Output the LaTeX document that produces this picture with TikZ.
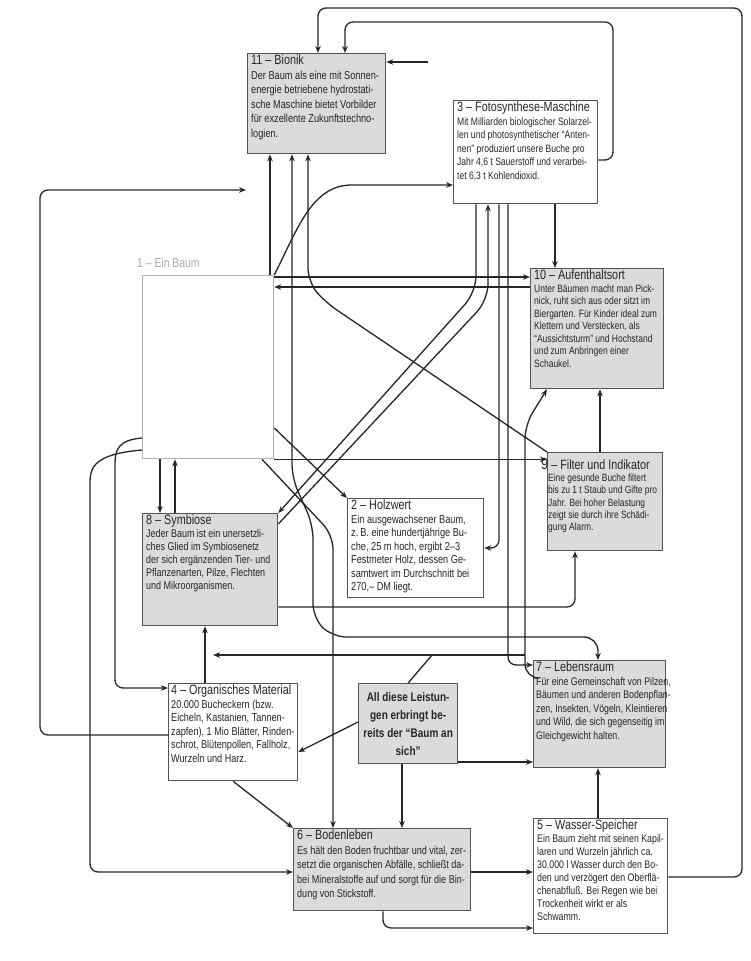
\documentclass[tikz,border=0pt]{standalone}
\usepackage{fontspec}
\setmainfont{Liberation Sans}
\newfontfamily\cond[FakeStretch=0.8]{Liberation Sans}
\usetikzlibrary{arrows.meta}
\definecolor{ink}{gray}{0.15}
\definecolor{speck}{gray}{0.86}
\definecolor{frame}{gray}{0.33}
\tikzset{
  box/.style={draw=frame, line width=1.3pt, anchor=north west, inner sep=0pt, fill=white},
  sbox/.style={box, fill=speck},
  txt/.style={anchor=north west, inner sep=0pt, align=left, text=ink},
  con/.style={draw=ink, line width=1.3pt, rounded corners=8pt},
  arr/.style={con, -{Stealth[length=7pt,width=5.5pt]}},
  darr/.style={con, {Stealth[length=7pt,width=5.5pt]}-{Stealth[length=7pt,width=5.5pt]}},
}
\newcommand{\ttl}[1]{{\fontsize{13.5}{15}\selectfont #1}}
\begin{document}
\begin{tikzpicture}[x=1pt,y=-1pt]
\useasboundingbox (0,0) rectangle (751,961);
\fill[white] (0,0) rectangle (751,961);

% boxes
\node[sbox, minimum width=138, minimum height=100] (bionik) at (247,53) {};
\node[box,  minimum width=144, minimum height=103] (foto) at (453,100) {};
\node[sbox, minimum width=133, minimum height=120] (aufent) at (530,268) {};
\node[box, draw=gray!60, minimum width=131, minimum height=183] (baum) at (142,275) {};
\node[anchor=west, inner sep=0pt, text=gray!65, font=\cond\fontsize{13}{14}\selectfont] (baumL) at (137,263) {1 – Ein Baum};
\node[sbox, minimum width=135, minimum height=112] (symb) at (142,513) {};
\node[box,  minimum width=136, minimum height=99] (holz) at (347,498) {};
\node[sbox, minimum width=115, minimum height=98] (filter) at (547,452) {};
\node[sbox, minimum width=132, minimum height=107] (leben) at (533,660) {};
\node[box,  minimum width=129, minimum height=97] (organ) at (168,683) {};
\node[sbox, minimum width=99, minimum height=80] (alle) at (358,683) {};
\node[sbox, minimum width=177, minimum height=82] (boden) at (293,828) {};
\node[box,  minimum width=134, minimum height=115] (wasser) at (533,818) {};

% texts
\node[txt, font=\cond\fontsize{11.5}{14.5}\selectfont] (bionikT) at (251,55) {\ttl{11 – Bionik}\\Der Baum als eine mit Sonnen-\\energie betriebene hydrostati-\\sche Maschine bietet Vorbilder\\für exzellente Zukunftstechno-\\logien.};
\node[txt, font=\cond\fontsize{10.7}{13.5}\selectfont] (fotoT) at (457,102) {\ttl{3 – Fotosynthese-Maschine}\\Mit Milliarden biologischer Solarzel-\\len und photosynthetischer “Anten-\\nen” produziert unsere Buche pro\\Jahr 4,6 t Sauerstoff und verarbei-\\tet 6,3 t Kohlendioxid.};
\node[txt, font=\cond\fontsize{10.6}{12.5}\selectfont] (aufentT) at (534,270) {\ttl{10 – Aufenthaltsort}\\Unter Bäumen macht man Pick-\\nick, ruht sich aus oder sitzt im\\Biergarten. Für Kinder ideal zum\\Klettern und Verstecken, als\\“Aussichtsturm” und Hochstand\\und zum Anbringen einer\\Schaukel.};
\node[txt, font=\cond\fontsize{11.2}{13}\selectfont] (symbT) at (146,515) {\ttl{8 – Symbiose}\\Jeder Baum ist ein unersetzli-\\ches Glied im Symbiosenetz\\der sich ergänzenden Tier- und\\Pflanzenarten, Pilze, Flechten\\und Mikroorganismen.};
\node[txt, font=\cond\fontsize{11.5}{13.5}\selectfont] (holzT) at (351,500) {\ttl{2 – Holzwert}\\Ein ausgewachsener Baum,\\z.\,B. eine hundertjährige Bu-\\che, 25 m hoch, ergibt 2–3\\Festmeter Holz, dessen Ge-\\samtwert im Durchschnitt bei\\270,– DM liegt.};
\node[txt, font=\cond\fontsize{10.5}{12.3}\selectfont] (filterT) at (541,458) {{\fontsize{16}{15}\selectfont 9}\ttl{ – Filter und Indikator}\\\hspace*{7pt}Eine gesunde Buche filtert\\\hspace*{7pt}bis zu 1 t Staub und Gifte pro\\\hspace*{7pt}Jahr. Bei hoher Belastung\\\hspace*{7pt}zeigt sie durch ihre Schädi-\\\hspace*{7pt}gung Alarm.};
\node[txt, font=\cond\fontsize{11}{13.5}\selectfont] (lebenT) at (536,662) {\ttl{7 – Lebensraum}\\Für eine Gemeinschaft von Pilzen,\\Bäumen und anderen Bodenpflan-\\zen, Insekten, Vögeln, Kleintieren\\und Wild, die sich gegenseitig im\\Gleichgewicht halten.};
\node[txt, font=\cond\fontsize{11.4}{13.5}\selectfont] (organT) at (171,685) {\ttl{4 – Organisches Material}\\20.000 Bucheckern (bzw.\\Eicheln, Kastanien, Tannen-\\zapfen), 1 Mio Blätter, Rinden-\\schrot, Blütenpollen, Fallholz,\\Wurzeln und Harz.};
\node[anchor=center, inner sep=0pt, align=center, text=ink, font=\cond\bfseries\fontsize{12.5}{18}\selectfont] (alleT) at (alle.center) {All diese Leistun-\\gen erbringt be-\\reits der “Baum an\\sich”};
\node[txt, font=\cond\fontsize{11.3}{14.5}\selectfont] (bodenT) at (297,830) {\ttl{6 – Bodenleben}\\Es hält den Boden fruchtbar und vital, zer-\\setzt die organischen Abfälle, schließt da-\\bei Mineralstoffe auf und sorgt für die Bin-\\dung von Stickstoff.};
\node[txt, font=\cond\fontsize{11}{13}\selectfont] (wasserT) at (537,820) {\ttl{5 – Wasser-Speicher}\\Ein Baum zieht mit seinen Kapil-\\laren und Wurzeln jährlich ca.\\30.000 l Wasser durch den Bo-\\den und verzögert den Oberflä-\\chenabfluß. Bei Regen wie bei\\Trockenheit wirkt er als\\Schwamm.};

% free ends
\coordinate (c3) at (428,62);
\coordinate (c14) at (213,655);
\coordinate (j14) at (525,655);
\coordinate (c22) at (246,190);
\coordinate (c27) at (432,655);

% connectors into Bionik
\draw[arr] (wasser.east |- 0,877) -- (742,877) -- (742,8) -- (318,8) -- (318,0 |- bionik.north);
\draw[arr] (foto.east |- 0,160) -- (613,160) -- (613,22) -- (345,22) -- (345,0 |- bionik.north);
\draw[arr] (c3) -- (bionik.east |- c3);
\draw[arr] (270,0 |- baum.north) -- (270,0 |- bionik.south);
\draw[arr, rounded corners=14pt] (filter.north west) -- (325,302) -- (308,282) -- (308,0 |- bionik.south);
\draw[darr, rounded corners=14pt] (292,0 |- bionik.south) -- (292,478) -- (313,525) -- (313,618) -- (332,637) -- (598,637) -- (598,0 |- leben.north);

% Ein Baum
\draw[arr] (baum.east |- 0,277) -- (aufent.west |- 0,277);
\draw[arr] (aufent.west |- 0,287) -- (baum.east |- 0,287);
\draw[arr] (baum.north east) .. controls (298,228) and (312,185) .. (360,185) -- (foto.west |- 0,185);
\draw[arr] (baum.east |- 0,428) -- (holz.north west);
\draw[arr] (baum.south east) -- (filter.west |- baum.south east);
\draw[arr, rounded corners=14pt] (262,0 |- baum.south) -- (333,535) -- (333,0 |- boden.north);
\draw[arr] (160,0 |- baum.south) -- (160,0 |- symb.north);
\draw[arr] (175,0 |- symb.north) -- (175,0 |- baum.south);
\draw[arr] (baum.west |- 0,438) .. controls (118,440) and (115,450) .. (115,472) -- (115,688) -- (organ.west |- 0,688);
\draw[arr] (baum.west |- 0,450) .. controls (95,454) and (90,467) .. (90,490) -- (90,872) -- (boden.west |- 0,872);

% Fotosynthese
\draw[arr] (555,0 |- foto.south) -- (555,0 |- aufent.north);
\draw[arr, rounded corners=16pt] (476,0 |- foto.south) -- (476,292) -- (symb.north east);
\draw[arr, rounded corners=16pt] (symb.east |- 0,524) -- (488,300) -- (488,0 |- foto.south);
\draw[arr] (499,0 |- foto.south) -- (499,548) -- (holz.east |- 0,548);
\draw[arr] (508,0 |- foto.south) -- (508,665) -- (leben.west |- 0,665);

% Lebensraum / Filter / others
\draw[arr, rounded corners=14pt] (leben.west |- 0,678) -- (525,678) -- (525,425) -- (547,0 |- aufent.south);
\draw[arr] (j14) -- (c14);
\draw[arr] (600,0 |- filter.north) -- (600,0 |- aufent.south);
\draw[arr] (symb.east |- 0,607) -- (575,607) -- (575,0 |- filter.south);
\draw[arr] (205,0 |- organ.north) -- (205,0 |- symb.south);
\draw[arr] (organ.west |- 0,735) -- (40,735) -- (40,190) -- (c22);
\draw[arr] (alle.west |- 0,722) -- (organ.east |- 0,752);
\draw[arr] (402,0 |- alle.south) -- (402,0 |- boden.north);
\draw[con] (alle.north) -- (c27);
\draw[arr] (alle.east |- 0,762) -- (leben.west |- 0,762);
\draw[arr] (organ.south) -- (boden.north west);
\draw[arr] (boden.east |- 0,872) -- (wasser.west |- 0,872);
\draw[arr] (383,0 |- boden.south) -- (383,928) -- (wasser.west |- 0,928);
\draw[arr] (598,0 |- wasser.north) -- (598,0 |- leben.south);
\end{tikzpicture}
\end{document}
